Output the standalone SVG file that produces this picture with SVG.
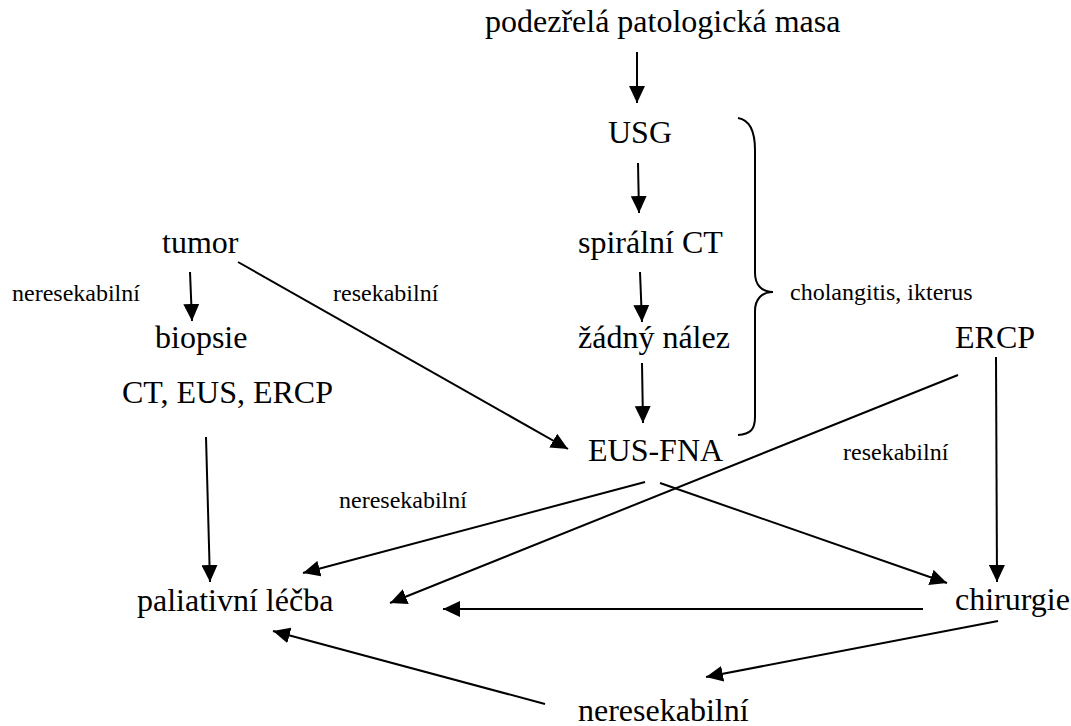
<svg xmlns="http://www.w3.org/2000/svg" width="1071" height="726" viewBox="0 0 1071 726">
<defs>
<marker id="ah" markerUnits="userSpaceOnUse" markerWidth="18" markerHeight="16" refX="17" refY="8" orient="auto">
<path d="M0,0 L17,8 L0,16 z" fill="#000"/>
</marker>
<style>
.big{font-family:"Liberation Serif","Times New Roman",serif;font-size:32px;fill:#000}
.sm{font-family:"Liberation Serif","Times New Roman",serif;font-size:24px;fill:#000}
.c line{stroke:#000;stroke-width:2;marker-end:url(#ah)}
.c path{stroke:#000;stroke-width:2;fill:none}
</style>
</defs>
<rect width="1071" height="726" fill="#fff"/>
<g id="n-mass"><text class="big" x="485" y="32">podezřelá patologická masa</text></g>
<g id="n-usg"><text class="big" x="608" y="143">USG</text></g>
<g id="n-ct"><text class="big" x="578" y="253">spirální CT</text></g>
<g id="n-none"><text class="big" x="578" y="348">žádný nález</text></g>
<g id="n-eus"><text class="big" x="588" y="461">EUS-FNA</text></g>
<g id="n-tumor"><text class="big" x="162" y="253">tumor</text></g>
<g id="n-biopsie"><text class="big" x="155" y="348">biopsie</text></g>
<g id="n-cteus"><text class="big" x="122" y="403">CT, EUS, ERCP</text></g>
<g id="n-ercp"><text class="big" x="955" y="348">ERCP</text></g>
<g id="n-pal"><text class="big" x="137" y="611">paliativní léčba</text></g>
<g id="n-chir"><text class="big" x="955" y="610">chirurgie</text></g>
<g id="n-neres"><text class="big" x="578" y="721">neresekabilní</text></g>
<g id="labels">
<text class="sm" x="12" y="301">neresekabilní</text>
<text class="sm" x="333" y="301">resekabilní</text>
<text class="sm" x="790" y="300">cholangitis, ikterus</text>
<text class="sm" x="843" y="460">resekabilní</text>
<text class="sm" x="339" y="508">neresekabilní</text>
</g>
<g id="connectors" class="c">
<line x1="637" y1="52" x2="637" y2="103"/>
<line x1="638" y1="163" x2="639" y2="213"/>
<line x1="640" y1="272" x2="642" y2="322"/>
<line x1="642" y1="363" x2="643" y2="423"/>
<line x1="190" y1="272" x2="192" y2="321"/>
<line x1="238" y1="262" x2="568" y2="449"/>
<line x1="206" y1="437" x2="210" y2="582"/>
<line x1="645" y1="482" x2="303" y2="573"/>
<line x1="958" y1="375" x2="390" y2="603"/>
<line x1="660" y1="483" x2="947" y2="583"/>
<line x1="996" y1="357" x2="997" y2="582"/>
<line x1="923" y1="609" x2="443" y2="609"/>
<line x1="998" y1="621" x2="706" y2="677"/>
<line x1="545" y1="704" x2="273" y2="631"/>
<path d="M738,118 C750,120 755,132 755,150 L755,273 C755,285 762,292 773,292 C762,292 755,299 755,311 L755,417 C755,430 750,434 738,435"/>
</g>
</svg>
